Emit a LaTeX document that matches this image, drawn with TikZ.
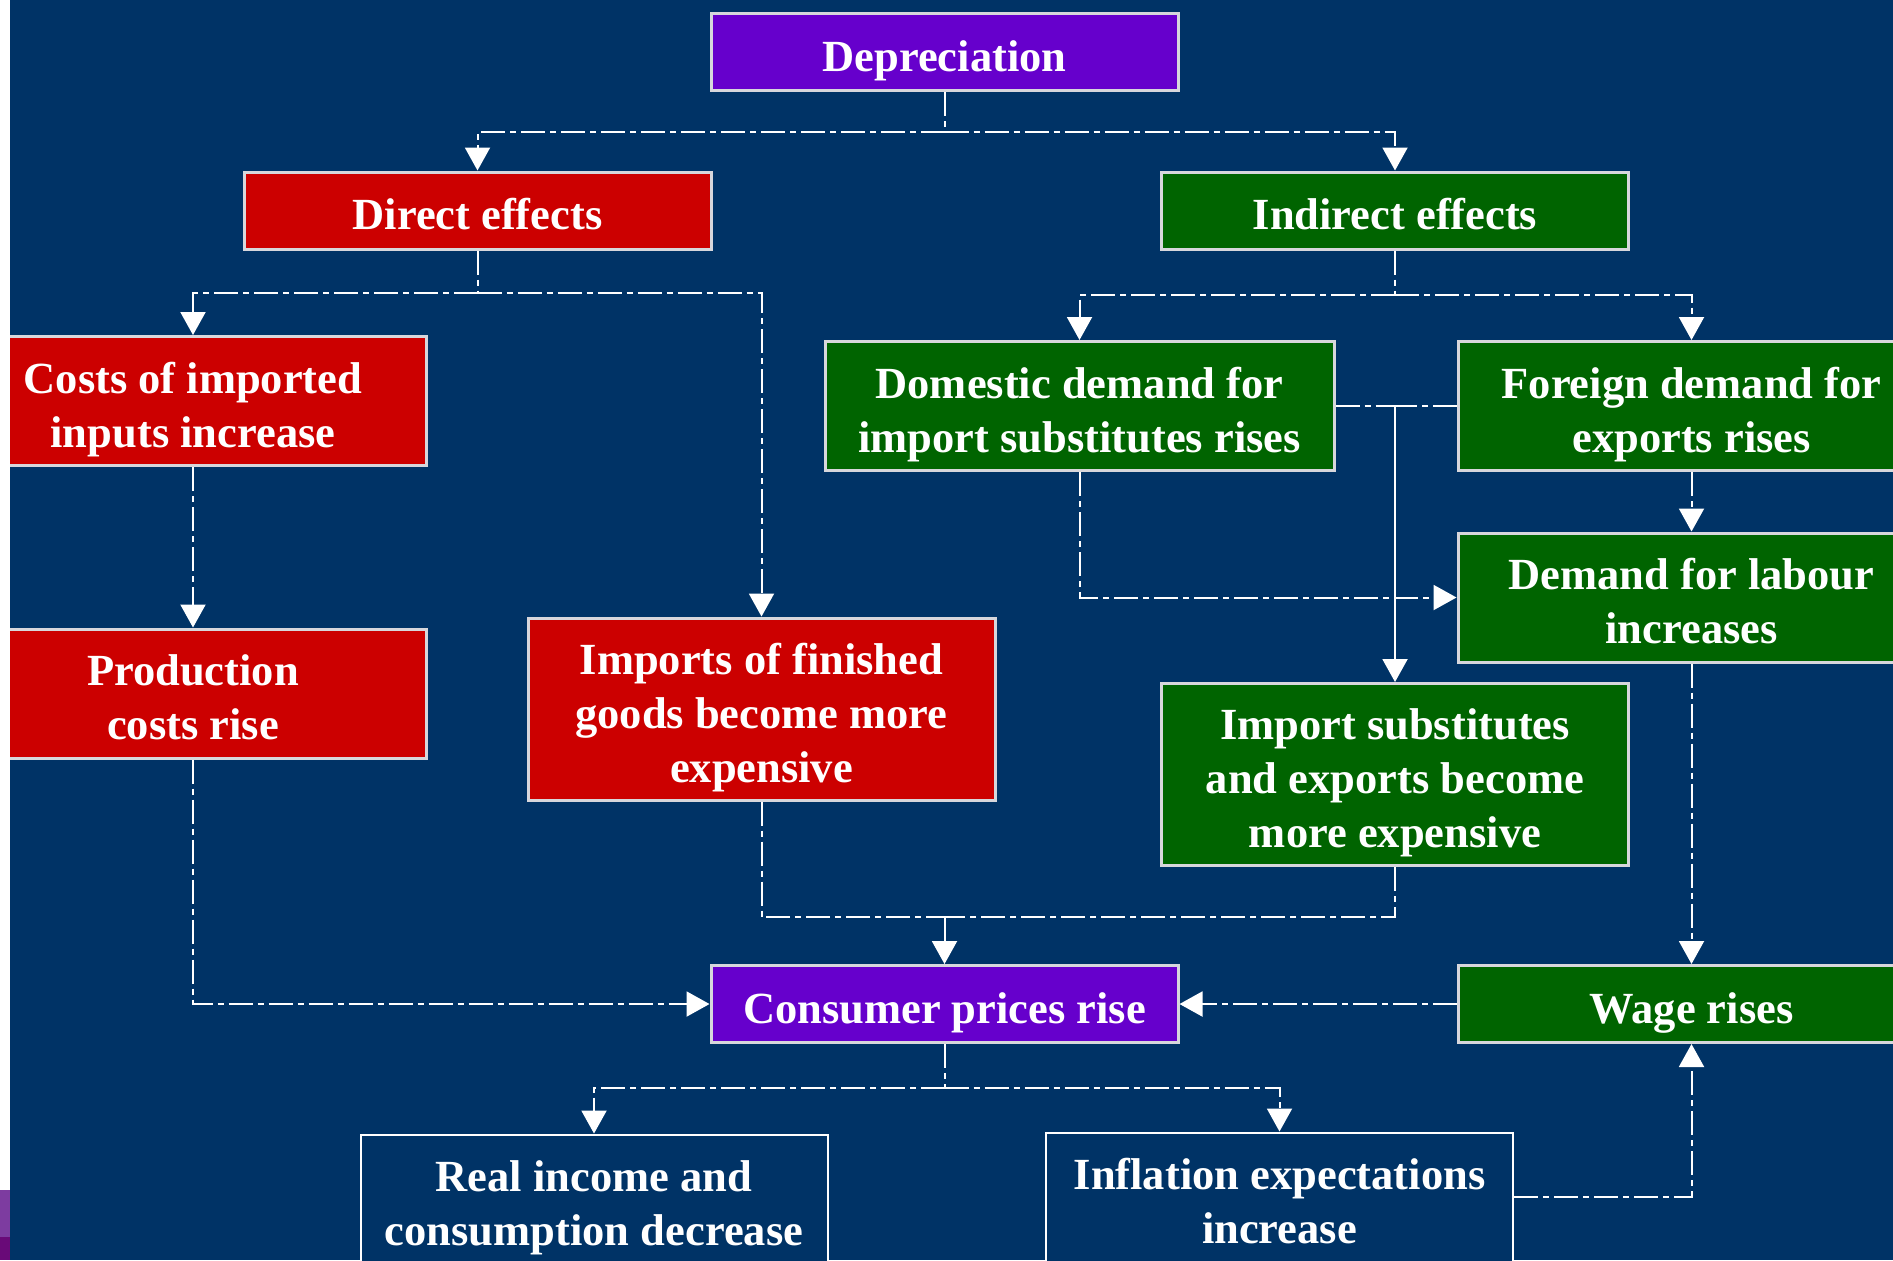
\documentclass[tikz,border=0pt]{standalone}
\usepackage{fontspec}
\setmainfont{Liberation Serif}
\usetikzlibrary{arrows.meta}
\definecolor{navy}{RGB}{0,51,102}
\definecolor{purp}{RGB}{102,0,204}
\definecolor{redbox}{RGB}{204,0,0}
\definecolor{greenbox}{RGB}{0,100,0}
\definecolor{boxline}{RGB}{215,215,220}
\definecolor{logoA}{RGB}{125,60,160}
\definecolor{logoB}{RGB}{105,10,120}
\begin{document}
\begin{tikzpicture}[x=0.5pt,y=-0.5pt,
  box/.style={draw=boxline, line width=1.5pt, inner sep=0pt, align=center, text=white,
    font=\fontsize{22.25pt}{27pt}\selectfont\bfseries, minimum width=233.5pt, text depth=5pt},
  one/.style={minimum height=38.5pt, text height=24pt},
  two/.style={minimum height=64.5pt, text height=51pt},
  three/.style={minimum height=91pt, text height=78pt},
  pbox/.style={box, fill=purp},
  rbox/.style={box, fill=redbox},
  gbox/.style={box, fill=greenbox},
  nbox/.style={box, fill=navy, draw=white, line width=1pt},
  conn/.style={draw=white, line width=1pt, dash pattern=on 12pt off 2.5pt on 3pt off 2.5pt},
  solidconn/.style={draw=white, line width=1pt},
  arr/.style={-{Triangle[length=11.5pt,width=12.5pt]}}
]
\useasboundingbox (0,0) rectangle (1893,1260);
\clip (0,0) rectangle (1893,1260);
\fill[navy] (0,0) rectangle (1893,1260);

% nodes
\node[pbox, one] (dep) at (944.5,52) {Depreciation};
\node[rbox, one] (direct) at (477.5,210.5) {Direct effects};
\node[gbox, one] (indirect) at (1395,210.5) {Indirect effects};
\node[rbox, two] (costs) at (193,401) {Costs of imported\\inputs increase};
\node[rbox, two] (prod) at (193,693.5) {Production\\costs rise};
\node[rbox, three] (impfin) at (761.5,709) {Imports of finished\\goods become more\\expensive};
\node[gbox, two, minimum width=254.5pt] (domestic) at (1079.5,406) {Domestic demand for\\import substitutes rises};
\node[gbox, two] (foreign) at (1691.5,406) {Foreign demand for\\exports rises};
\node[gbox, two] (labour) at (1691.5,597.5) {Demand for labour\\increases};
\node[gbox, three] (impsub) at (1395,774.5) {Import substitutes\\and exports become\\more expensive};
\node[pbox, one] (consumer) at (944.5,1004) {Consumer prices rise};
\node[gbox, one] (wage) at (1691.5,1004) {Wage rises};
\node[nbox, two] (real) at (594,1199) {Real income and\\consumption decrease};
\node[nbox, two] (infl) at (1279.5,1197) {Inflation expectations\\increase};

% connectors
\coordinate (j0) at (944.5,132);
\draw[conn] (dep.south) -- (j0);
\draw[conn, arr] (j0) -| (direct.north);
\draw[conn, arr] (j0) -| (indirect.north);

\coordinate (j1) at (477.5,293);
\draw[conn] (direct.south) -- (j1);
\draw[conn, arr] (j1) -| (costs.north);
\draw[conn, arr] (j1) -| (impfin.north);

\coordinate (j2) at (1395,295);
\draw[conn] (indirect.south) -- (j2);
\draw[conn, arr] (j2) -| (domestic.north);
\draw[conn, arr] (j2) -| (foreign.north);

\draw[conn, arr] (costs.south) -- (prod.north);

\coordinate (j3) at (impsub.north |- domestic.east);
\draw[conn] (domestic.east) -- (j3);
\draw[conn] (foreign.west) -- (j3);
\draw[solidconn, arr] (j3) -- (impsub.north);

\draw[conn, arr] (domestic.south) |- (labour.west);
\draw[conn, arr] (foreign.south) -- (labour.north);

\coordinate (j4) at (944.5,917);
\draw[conn] (impfin.south) |- (j4);
\draw[conn] (impsub.south) |- (j4);
\draw[conn, arr] (j4) -- (consumer.north);

\draw[conn, arr] (prod.south) |- (consumer.west);
\draw[conn, arr] (labour.south) -- (wage.north);
\draw[conn, arr] (wage.west) -- (consumer.east);

\coordinate (j5) at (944.5,1088);
\draw[conn] (consumer.south) -- (j5);
\draw[conn, arr] (j5) -| (real.north);
\draw[conn, arr] (j5) -| (infl.north);

\draw[conn, arr] (infl.east) -| (wage.south);

% left margin strip and logo fragment
\fill[white] (0,0) rectangle (10,1260);
\fill[logoA] (0,1190) rectangle (10,1237);
\fill[logoB] (0,1237) rectangle (10,1260);
\end{tikzpicture}
\end{document}
